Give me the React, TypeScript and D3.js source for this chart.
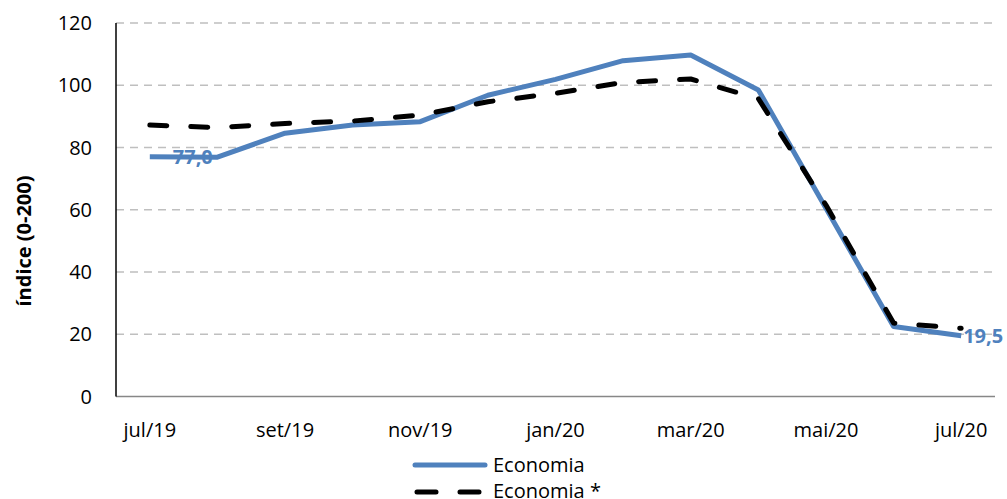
import React from "react";
import * as d3 from "d3";

const months = ["jul/19", "ago/19", "set/19", "out/19", "nov/19", "dez/19", "jan/20", "fev/20", "mar/20", "abr/20", "mai/20", "jun/20", "jul/20"];
const shownMonths = ["jul/19", "set/19", "nov/19", "jan/20", "mar/20", "mai/20", "jul/20"];
const economia = [77.0, 76.9, 84.6, 87.2, 88.3, 96.8, 101.9, 107.9, 109.7, 98.5, 60.5, 22.5, 19.5];
const economiaStar = [87.2, 86.4, 87.7, 88.5, 90.4, 94.7, 97.4, 100.9, 102.0, 95.7, 61.5, 23.6, 21.9];
const yTicks = [0, 20, 40, 60, 80, 100, 120];

const W = 1007;
const H = 499;
const left = 116;
const right = 995;
const top = 23;
const bottom = 396.5;
const font = "'Open Sans', sans-serif";
const blue = "#4F81BD";

const App: React.FC = () => {
  const x = d3.scalePoint<string>().domain(months).range([left, right]).padding(0.5);
  const y = d3.scaleLinear().domain([0, 120]).range([bottom, top]);

  const line = d3.line<number>()
    .x((_, i) => x(months[i])!)
    .y(d => y(d));

  const last = economia.length - 1;
  const fmt = (v: number) => d3.format(".1f")(v).replace(".", ",");

  return (
    <svg width={W} height={H} style={{ position: "absolute", left: 0, top: 0 }}>
      {yTicks.filter(t => t > 0).map(t => (
        <line key={t} x1={left} x2={right} y1={y(t)} y2={y(t)}
          stroke="#BFBFBF" strokeWidth={1.5} strokeDasharray="8 6" />
      ))}
      <line x1={left} x2={right} y1={bottom} y2={bottom} stroke="#878787" strokeWidth={1.5} />
      <line x1={left} x2={left} y1={top} y2={bottom} stroke="#000" strokeWidth={1.5} />

      {yTicks.map(t => (
        <text key={t} x={92} y={y(t)} dy="0.35em" textAnchor="end"
          fontFamily={font} fontSize={20} fill="#000">{t}</text>
      ))}
      {shownMonths.map(m => (
        <text key={m} x={x(m)!} y={437} textAnchor="middle"
          fontFamily={font} fontSize={20} fill="#000">{m}</text>
      ))}
      <text transform={`translate(31,241) rotate(-90)`} textAnchor="middle"
        fontFamily={font} fontSize={20} fontWeight="bold" fill="#000">índice (0-200)</text>

      <path d={line(economia)!} fill="none" stroke={blue} strokeWidth={5} strokeLinejoin="round" />
      <path d={line(economiaStar)!} fill="none" stroke="#000" strokeWidth={5}
        strokeDasharray="17 24" strokeLinecap="round" strokeLinejoin="round" />

      <text x={x(months[0])! + 23} y={y(economia[0])} dy="0.35em" fontFamily={font}
        fontSize={20} fontWeight="bold" fill={blue}>{fmt(economia[0])}</text>
      <text x={x(months[last])! + 2} y={y(economia[last])} dy="0.35em" fontFamily={font}
        fontSize={20} fontWeight="bold" fill={blue}>{fmt(economia[last])}</text>

      <line x1={415} x2={485} y1={465} y2={465} stroke={blue} strokeWidth={5} strokeLinecap="round" />
      <text x={493} y={472} fontFamily={font} fontSize={20} fill="#000">Economia</text>
      <line x1={417} x2={483} y1={492} y2={492} stroke="#000" strokeWidth={5}
        strokeDasharray="19 24" strokeLinecap="round" />
      <text x={493} y={498} fontFamily={font} fontSize={20} fill="#000">Economia *</text>
    </svg>
  );
};

export default App;
